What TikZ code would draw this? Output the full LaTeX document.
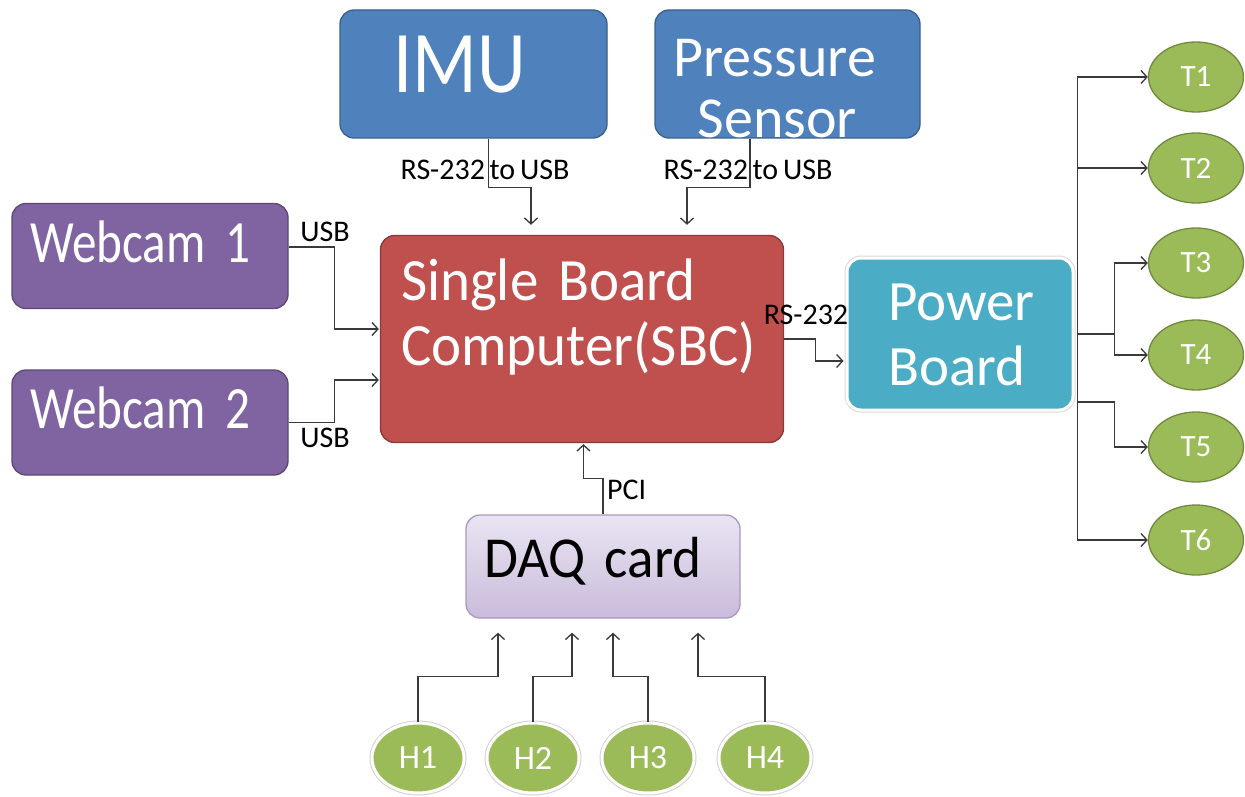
\documentclass[tikz,border=0pt]{standalone}
\usepackage{fontspec}
\setmainfont{Carlito}[WordSpace=0.7]
\newfontfamily\imufont{Carlito}[FakeStretch=0.86]
\newfontfamily\camfont{Carlito}[FakeStretch=0.82,WordSpace=0.45]
\newfontfamily\sbcfont{Carlito}[FakeStretch=0.95,WordSpace=0.55]
\usetikzlibrary{shapes.geometric,arrows.meta}

\definecolor{sensorblue}{HTML}{4F81BD}
\definecolor{sensoredge}{HTML}{3A5F8C}
\definecolor{campurple}{HTML}{8064A2}
\definecolor{camedge}{HTML}{5C4776}
\definecolor{sbcred}{HTML}{C0504D}
\definecolor{sbcedge}{HTML}{8C3836}
\definecolor{powercyan}{HTML}{4BACC6}
\definecolor{daqtop}{HTML}{EAE4F2}
\definecolor{daqbottom}{HTML}{C9BCDB}
\definecolor{daqedge}{HTML}{A898C0}
\definecolor{leafgreen}{HTML}{9BBB59}
\definecolor{leafedge}{HTML}{71893F}
\definecolor{wire}{HTML}{3A3A3A}

\newcommand{\fs}[2]{\fontsize{#1}{#2}\selectfont}

\begin{document}
\begin{tikzpicture}[x=1pt,y=-1pt,
  box/.style={rounded corners=14pt, line width=1.3pt, text=white, align=left, inner sep=0pt},
  sensorbox/.style={box, fill=sensorblue, draw=sensoredge, minimum height=128pt},
  cambox/.style={box, fill=campurple, draw=camedge, minimum width=276pt, minimum height=105pt,
    text width=240pt, text height=12pt, text depth=0pt, font=\camfont\fs{60}{64}},
  tleaf/.style={ellipse, fill=leafgreen, draw=leafedge, line width=1.3pt, inner sep=0pt,
    minimum width=95pt, minimum height=70pt, text=white, font=\fs{31}{33}},
  hleaf/.style={ellipse, fill=leafgreen, draw=white, line width=3pt, inner sep=0pt,
    minimum width=92pt, minimum height=70pt, text=white, font=\fs{34}{36},
    preaction={draw=black!18, line width=5pt}},
  wirelabel/.style={font=\fs{30}{32}, inner sep=0pt},
  link/.style={draw=wire, line width=1.3pt, -{Straight Barb[length=6pt,width=13pt]}},
  wire/.style={draw=wire, line width=1.3pt},
]
\useasboundingbox (0,0) rectangle (1245,797);

% Sensoren oben
\node[sensorbox, minimum width=267pt, text width=160pt, text height=38pt, text depth=0pt,
  font=\imufont\fs{88}{92}] (imu) at (473.5,74) {IMU};
\node[sensorbox, minimum width=265pt, text width=228pt, text height=6pt, text depth=0pt,
  font=\fs{58}{61}] (pressure) at (787.5,74) {Pressure\\\hspace*{24pt}Sensor};

% Webcams links
\node[cambox] (cam1) at (150,256) {Webcam 1};
\node[cambox] (cam2) at (150,422.5) {Webcam 2};

% Rechner in der Mitte
\node[box, fill=sbcred, draw=sbcedge, minimum width=403pt, minimum height=207pt,
  text width=362pt, text height=0pt, text depth=78pt, font=\sbcfont\fs{60}{65}] (sbc) at (582,339)
  {Single Board\\Computer(SBC)};

% Power Board
\node[box, fill=powercyan, draw=white, line width=3pt, preaction={draw=black!15, line width=5pt},
  minimum width=226pt, minimum height=152pt, text width=144pt, text height=0pt, text depth=28pt,
  font=\fs{57}{65}] (pb) at (960,334) {Power\\Board};

% DAQ Karte
\node[box, top color=daqtop, bottom color=daqbottom, draw=daqedge, text=black,
  minimum width=274pt, minimum height=103pt, text width=238pt, text height=21pt, text depth=0pt,
  font=\sbcfont\fs{58}{61}] (daq) at (603,566.5) {DAQ card};

% Ausgaenge T1--T6
\node[tleaf] (t1) at (1196,77) {T1};
\node[tleaf] (t2) at (1196,168) {T2};
\node[tleaf] (t3) at (1196,263) {T3};
\node[tleaf] (t4) at (1196,355) {T4};
\node[tleaf] (t5) at (1196,447) {T5};
\node[tleaf] (t6) at (1196,540) {T6};

% Eingaenge H1--H4
\node[hleaf] (h1) at (418,758) {H1};
\node[hleaf] (h2) at (533,758) {H2};
\node[hleaf] (h3) at (648,758) {H3};
\node[hleaf] (h4) at (765,758) {H4};

% Beschriftungen der Leitungen
\node[wirelabel] (imulabel) at (485,170) {RS-232 to USB};
\node[wirelabel] (preslabel) at (748,170) {RS-232 to USB};
\node[wirelabel] (usbtop) at (325,232) {USB};
\node[wirelabel] (usbbottom) at (325,438) {USB};
\node[wirelabel] (rslabel) at (806,315) {RS-232};
\node[wirelabel, anchor=west] (pcilabel) at (607,490) {PCI};

% Leitungen zum Rechner
\draw[link, shorten >=10pt] ([xshift=15pt]imu.south) -- ++(0,-49pt) -| ([xshift=-51pt]sbc.north);
\draw[link, shorten >=10pt] ([xshift=-37.5pt]pressure.south) -- ++(0,-49pt) -| ([xshift=105pt]sbc.north);
\draw[link, shorten >=1pt] ([yshift=9pt]cam1.east) -- ++(46pt,0) |- ([yshift=10pt]sbc.west);
\draw[link, shorten >=1pt] (cam2.east) -- ++(46pt,0) |- ([yshift=-41pt]sbc.west);
\draw[link, shorten >=1pt] (daq.north) -- ++(0,36pt) -| ([xshift=1.5pt]sbc.south);
\draw[link, shorten >=2pt] (sbc.east) -- ++(31pt,0) |- ([yshift=-27pt]pb.west);

% Verteilung vom Power Board
\coordinate (bus) at ([xshift=3pt]pb.east);
\coordinate (bus5) at ([xshift=3pt,yshift=-68pt]pb.east);
\draw[link] (bus) |- (t1.west);
\draw[link] (bus) |- (t2.west);
\draw[link] (bus) |- (t6.west);
\draw[wire] (bus) -- ++(37pt,0) coordinate (fork34);
\draw[link] (fork34) |- (t3.west);
\draw[link] (fork34) |- (t4.west);
\draw[link] (bus5) -- ++(37pt,0) |- (t5.west);

% Leitungen zur DAQ Karte
\draw[link, shorten >=14pt] (h1.north) -- ++(0,45pt) -| ([xshift=-105pt]daq.south);
\draw[link, shorten >=14pt] (h2.north) -- ++(0,45pt) -| ([xshift=-31pt]daq.south);
\draw[link, shorten >=14pt] (h3.north) -- ++(0,45pt) -| ([xshift=10pt]daq.south);
\draw[link, shorten >=14pt] (h4.north) -- ++(0,45pt) -| ([xshift=95pt]daq.south);
\end{tikzpicture}
\end{document}
